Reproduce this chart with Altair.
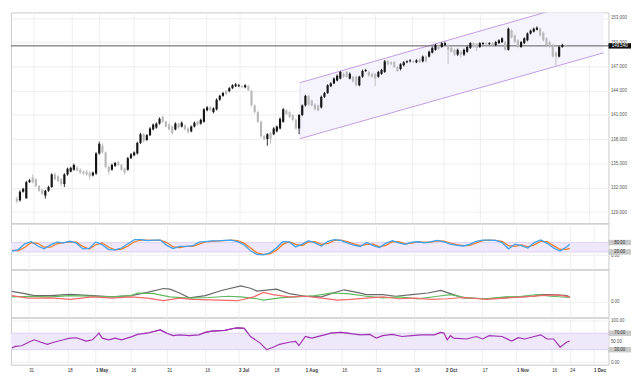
import altair as alt
import pandas as pd

FONT = "Liberation Sans"

# ---------------- price candles (one per trading day) ----------------
opens = [130.68,130.45,131.51,130.68,132.70,133.29,133.05,132.22,131.75,131.04,
         131.63,132.10,133.65,133.41,133.05,132.46,133.65,134.00,134.24,134.47,
         134.24,134.00,134.00,133.88,133.53,133.76,136.25,137.20,136.37,134.59,
         134.24,134.71,135.19,134.83,134.36,134.24,135.66,136.01,136.25,137.55,
         138.62,137.91,138.50,139.21,139.45,139.93,140.76,140.16,139.81,139.57,
         139.21,139.93,139.57,139.69,139.33,138.98,139.57,140.16,139.93,140.16,
         141.58,141.94,141.35,141.70,142.89,143.36,143.95,143.95,144.31,144.55,
         144.55,144.55,144.43,144.55,143.95,142.18,141.35,140.16,138.38,138.03,
         138.74,138.62,138.98,139.33,140.16,141.58,141.35,140.99,140.40,139.33,
         140.99,142.18,143.36,142.77,142.30,142.18,141.94,143.24,143.72,144.55,
         144.90,145.26,145.50,146.09,146.32,145.50,145.73,145.73,144.67,145.73,
         146.44,146.32,146.09,146.09,145.73,146.09,146.32,147.63,147.51,147.51,
         146.92,146.68,147.15,147.51,147.63,147.63,147.51,147.87,147.63,148.22,
         148.22,148.70,149.05,149.52,149.41,149.64,149.64,149.29,149.05,148.46,
         148.81,148.46,148.81,149.29,149.88,149.76,149.41,149.76,149.88,149.76,
         149.88,149.64,149.88,150.00,150.00,149.05,151.42,150.83,150.23,149.41,
         149.88,150.23,151.07,151.30,151.54,151.66,151.18,150.47,150.00,149.64,
         148.70,148.22,149.41,149.60]
closes = [130.33,131.51,131.87,132.70,132.93,132.70,132.22,131.63,131.28,131.63,
          132.10,133.65,133.05,132.82,132.46,133.65,134.36,134.47,134.83,134.12,
          133.88,133.76,133.65,133.41,133.88,136.25,137.44,136.37,134.59,134.00,
          134.83,135.07,134.83,134.24,133.88,135.66,136.13,136.37,137.55,138.62,
          137.79,138.50,139.33,139.81,139.93,140.52,140.16,139.57,139.21,138.74,
          139.93,139.45,140.04,139.21,138.86,139.57,140.04,139.81,140.40,141.70,
          141.94,141.58,141.82,142.89,143.36,143.72,143.60,144.31,144.67,144.78,
          144.67,144.43,144.67,144.07,142.18,141.35,140.16,138.38,138.03,138.62,
          138.03,139.33,139.57,140.52,141.70,141.11,140.76,140.40,139.33,140.99,
          142.18,143.36,142.30,142.18,141.70,141.58,143.24,143.72,144.67,144.90,
          145.50,145.85,146.32,145.73,145.73,146.09,145.14,144.67,145.73,146.44,
          146.56,145.85,145.73,145.50,146.32,146.56,147.63,147.27,147.27,146.92,
          146.44,147.27,147.51,147.63,147.75,147.51,147.75,147.51,148.22,147.63,
          148.81,149.29,149.64,149.17,149.88,149.88,149.05,148.81,148.46,149.05,
          148.46,149.05,149.41,149.88,149.41,149.29,149.88,149.88,149.76,149.88,
          149.64,150.00,150.23,150.47,149.05,151.66,150.59,150.00,149.41,150.00,
          150.47,151.07,151.42,151.66,151.78,150.83,150.23,149.64,149.41,148.22,
          148.22,149.41,149.64,149.54]
highs = [130.92,131.70,132.00,132.85,133.10,133.65,133.20,132.35,131.90,131.75,
         132.25,133.80,133.90,133.55,133.20,133.80,134.50,134.60,135.00,134.70,
         134.40,134.15,134.20,134.00,134.00,136.40,137.70,137.50,136.50,134.75,
         135.00,135.20,135.35,134.95,134.50,135.80,136.30,136.50,137.70,138.80,
         138.75,138.65,139.50,139.95,140.10,140.70,140.90,140.30,139.95,139.70,
         140.10,140.05,140.20,139.85,139.45,139.70,140.20,140.30,140.55,141.85,
         142.10,142.10,141.95,143.05,143.50,143.85,144.10,144.45,144.80,144.95,
         144.85,144.70,144.80,144.70,144.10,142.30,141.50,140.30,138.55,138.75,
         138.90,139.50,139.70,140.70,141.85,141.75,141.50,141.10,140.55,141.10,
         142.30,143.50,143.50,142.90,142.45,142.30,143.40,143.85,144.80,145.05,
         145.65,146.00,146.45,146.25,146.45,146.25,145.85,145.85,145.85,146.60,
         146.70,146.45,146.20,146.20,146.45,146.70,147.80,147.80,147.65,147.65,
         147.05,147.40,147.65,147.75,147.90,147.75,147.90,148.00,148.35,148.35,
         148.95,149.45,149.80,149.70,150.00,150.05,149.80,149.45,149.20,149.20,
         148.95,149.20,149.55,150.00,150.00,149.90,150.00,150.00,150.00,150.00,
         150.00,150.15,150.35,150.60,150.15,151.80,151.60,150.95,150.35,150.15,
         150.60,151.20,151.55,151.80,151.95,151.80,151.30,150.60,150.15,149.80,
         148.85,149.55,149.80,149.70]
lows = [130.09,130.30,131.40,130.70,132.60,132.55,132.10,131.50,131.10,130.68,
        131.50,132.00,132.90,132.70,132.20,132.10,133.50,133.90,134.10,134.00,
        133.70,133.60,133.50,133.05,133.40,133.60,136.10,136.20,134.40,133.65,
        134.10,134.60,134.70,134.10,133.65,134.10,135.55,135.90,136.10,137.40,
        137.60,137.80,138.40,139.10,139.30,139.80,140.00,139.45,139.10,138.60,
        139.10,139.30,139.45,139.10,138.70,138.85,139.45,139.70,139.80,140.05,
        141.45,141.45,141.20,141.55,142.75,143.25,143.45,143.80,144.20,144.45,
        144.45,144.30,144.30,143.95,142.05,141.20,140.00,138.20,137.85,137.20,
        137.45,138.50,138.85,139.20,140.05,141.00,140.60,140.25,139.20,138.62,
        140.85,142.05,142.15,142.05,141.55,141.45,141.80,143.10,143.60,144.45,
        144.80,145.15,145.40,145.60,145.60,145.40,145.00,144.55,144.55,145.60,
        146.30,145.70,145.60,144.55,145.60,145.95,146.20,147.15,147.15,146.80,
        146.30,146.50,147.00,147.40,147.50,147.40,147.40,147.40,147.50,147.50,
        148.10,148.60,148.95,149.05,149.30,149.55,147.27,148.70,148.30,148.30,
        148.10,148.30,148.70,149.15,149.30,148.90,149.30,149.65,149.65,149.65,
        149.50,149.50,149.75,149.90,148.95,148.95,150.45,149.85,149.25,149.30,
        149.75,150.10,150.95,151.20,151.45,150.70,150.10,149.50,149.30,148.10,
        147.04,148.10,149.30,149.45]
last_price = 149.54

# rising channel anchor points (bar index, price)
chan_x = [89.3, 185.0]
chan_upper = [144.99, 155.75]
chan_lower = [138.07, 148.68]

# ---------------- stochastic ----------------
sto_idx = list(range(0, 173, 2)) + [173]
sto_k = [25,35,72,86,58,40,65,82,78,88,76,39,42,84,66,35,33,45,72,98,
         99,92,96,96,62,42,55,56,58,82,86,90,91,94,96,86,66,27,4,2,
         14,45,85,84,52,70,92,78,58,88,99,94,78,64,55,80,60,48,76,92,
         78,68,82,85,78,85,93,84,70,62,58,68,88,95,96,93,80,40,70,60,
         45,80,96,75,45,26,52,69]
sto_d = [30,28,50,80,75,50,50,72,80,84,82,55,38,66,78,50,34,38,58,85,
         96,95,94,96,80,52,48,56,56,70,84,88,90,92,95,92,76,45,14,4,
         8,30,68,86,68,60,84,86,68,74,94,96,86,72,60,68,70,52,62,85,
         86,72,76,84,82,82,90,89,77,66,60,62,78,92,96,94,87,60,55,65,
         52,65,88,86,60,36,36,43]

# ---------------- ADX / DMI ----------------
adx_idx = [0,4,7,12,18,25,31,37,42,47,49,52,55,60,65,71,74,76,82,86,
           91,96,99,103,107,110,115,119,124,129,133,136,140,147,152,157,162,164,168,172,173]
adx_val = [19,14.8,11.2,11.2,13.6,11.2,8.8,11.2,17.2,24.4,23.2,16,7,11.2,20.8,29.2,25,19.6,23.2,14.8,
           10,8.8,14.8,22,17.2,13,13,10,13,16,20.8,14.8,7,5.2,7,8.8,10,13,13,11.2,8.8]
pdi_idx = [0,6,12,18,25,31,37,39,44,49,55,61,67,71,76,78,83,88,94,99,
           104,110,115,120,126,132,136,141,147,153,158,163,167,173]
pdi_val = [8.8,10,8.8,11.2,10,8.8,11.2,16,14.8,8.8,6.4,7.6,10,8.8,5.2,2.8,7,8.8,11.2,16,
           14.8,10,7,8.8,5.2,10,13,7,5.2,8.8,10,13,10,7.6]
mdi_idx = [0,5,12,18,25,31,37,42,47,52,56,64,70,75,78,81,86,91,96,101,
           105,110,115,120,125,130,135,140,147,153,159,164,169,173]
mdi_val = [11.2,6.4,7,4,8.8,6.4,8.8,6.4,1.6,6.4,4,2.8,1.6,8.8,17.2,13,8.8,10,6.4,2.8,
           4,6.4,8.8,5.2,6.4,4,5.2,7.6,4,6.4,8.8,11.2,12.4,8.8]

# ---------------- RSI ----------------
rsi_idx = [0,1,3,6,7,9,11,13,16,18,20,23,25,27,28,30,32,34,37,39,
           42,44,46,48,50,52,55,58,60,62,66,69,70,72,74,77,79,81,83,86,
           88,89,91,93,96,99,102,105,108,111,113,115,118,121,124,127,131,133,134,135,
           136,137,141,144,146,148,152,155,157,159,162,164,166,168,170,172,173]
rsi_val = [34,38,39.5,51,54,48,43,48,54,58,59,51,54,70,58,54,58,54,61,67,
           70,74,78,70,64,66,64,66,72,75,77,82,83,82,62,46,30,36,43,48,
           50,40,62,58,64,70,72,69,66,67,58,64,67,62,64,66,66,72,70,54,
           64,58,56,62,56,64,62,51,59,56,62,66,56,56,36,48,51]

# ---------------- time axis ----------------
tick_pos = [5.2,17.2,25.9,36.9,48.0,59.8,70.3,81.3,91.0,102.3,112.9,124.8,134.5,145.9,156.5,167.4,173.0,180.4]
tick_txt = ["31","18","1 May","16","31","16","3 Jul","18","1 Aug","16","31","18","2 Oct","17","1 Nov","16","24","1 Dec"]
month_pos = [25.9, 70.3, 91.0, 134.5, 156.5, 180.4]

price_ticks = [129, 132, 135, 138, 141, 144, 147, 150, 153]

# ---------------- layout ----------------
W = 609
H_MAIN, H_STO, H_ADX, H_RSI = 215, 47, 49, 48
LBL = 4.5
BOX = "M-1,-0.24H1V0.24H-1Z"
BOX_X = W + 11.5

xs = alt.Scale(domain=[-0.3, 185.0], nice=False, zero=False)
pos_list = "[" + ",".join(str(v) for v in tick_pos) + "]"
txt_list = "[" + ",".join("'" + t + "'" for t in tick_txt) + "]"
mon_list = "[" + ",".join(str(v) for v in month_pos) + "]"

grid_x = alt.Axis(values=tick_pos, labels=False, ticks=False, domain=False, grid=True,
                  gridColor="#eeeeee", title=None)
bottom_x = alt.Axis(values=tick_pos, ticks=False, domain=False, grid=True, gridColor="#eeeeee",
                    title=None, labelExpr=txt_list + "[indexof(" + pos_list + ", datum.value)]",
                    labelAlign="left", labelBaseline="top", labelPadding=3, labelOverlap=False,
                    labelFlush=False, labelFontSize=LBL, labelColor="#333",
                    labelFontWeight={"condition": {"test": "indexof(" + mon_list + ", datum.value) >= 0",
                                                   "value": "bold"}, "value": "normal"})


def y_axis(vals, fmt):
    return alt.Axis(orient="right", values=vals, format=fmt, grid=True, gridColor="#eeeeee",
                    ticks=False, domain=False, title=None, labelPadding=2, labelOverlap=False,
                    labelFlush=False, labelBound=False)


candles = pd.DataFrame({"i": list(range(len(opens))), "open": opens, "close": closes,
                        "high": highs, "low": lows})
candles["dir"] = ["up" if c >= o else "down" for o, c in zip(opens, closes)]
col = alt.Color("dir:N", scale=alt.Scale(domain=["up", "down"], range=["#151515", "#b9b9b9"]), legend=None)

ys_main = alt.Scale(domain=[127.6, 153.67], nice=False, zero=False)
main_axis = y_axis(price_ticks, ".3f")


def ym(field):
    return alt.Y(field, scale=ys_main, axis=main_axis)


chan = pd.DataFrame({"x": chan_x, "up": chan_upper, "lo": chan_lower})
base_c = alt.Chart(chan)
chan_area = base_c.mark_area(color="#f5f3fc", opacity=1, clip=True).encode(
    x=alt.X("x:Q", scale=xs, axis=grid_x), y=ym("up:Q"), y2="lo:Q")
chan_up = base_c.mark_line(color="#c29be2", strokeWidth=1, clip=True).encode(
    x=alt.X("x:Q", scale=xs, axis=grid_x), y=ym("up:Q"))
chan_lo = base_c.mark_line(color="#c29be2", strokeWidth=1, clip=True).encode(
    x=alt.X("x:Q", scale=xs, axis=grid_x), y=ym("lo:Q"))
chan_edge = alt.Chart(chan.head(1)).mark_rule(color="#e2d8f2", strokeWidth=0.8).encode(
    x=alt.X("x:Q", scale=xs, axis=grid_x), y=ym("up:Q"), y2="lo:Q")

price_line = alt.Chart(pd.DataFrame({"p": [last_price]})).mark_rule(color="#5a5a5a", strokeWidth=1).encode(
    y=ym("p:Q"))

cb = alt.Chart(candles)
wicks = cb.mark_rule(strokeWidth=0.9).encode(
    x=alt.X("i:Q", scale=xs, axis=grid_x), y=ym("low:Q"), y2="high:Q", color=col)
bodies = cb.mark_bar(size=2.2).encode(
    x=alt.X("i:Q", scale=xs, axis=grid_x), y=ym("open:Q"), y2="close:Q", color=col)

price_tag = pd.DataFrame({"p": [last_price], "t": ["149.540"]})
tag_box = alt.Chart(price_tag).mark_point(shape=BOX, size=529, filled=True, color="#111111", opacity=1).encode(
    x=alt.value(BOX_X), y=ym("p:Q"))
tag_txt = alt.Chart(price_tag).mark_text(font=FONT, fontSize=LBL, color="white", align="center",
                                         baseline="middle").encode(
    x=alt.value(BOX_X), y=ym("p:Q"), text="t:N")

main = alt.layer(chan_area, chan_up, chan_lo, chan_edge, price_line, wicks, bodies, tag_box, tag_txt
                 ).properties(width=W, height=H_MAIN)


def band_layers(lo, hi, ys, ax, box_vals, box_txt):
    bdf = pd.DataFrame({"lo": [lo], "hi": [hi]})
    band = alt.Chart(bdf).mark_rect(color="#efe7fa").encode(
        x=alt.value(0), x2=alt.value(W), y=alt.Y("lo:Q", scale=ys, axis=ax), y2="hi:Q")
    edges = alt.Chart(pd.DataFrame({"v": [lo, hi]})).mark_rule(color="#d9cbef", strokeWidth=0.8).encode(
        y=alt.Y("v:Q", scale=ys, axis=ax))
    tdf = pd.DataFrame({"v": box_vals, "t": box_txt})
    boxes = alt.Chart(tdf).mark_point(shape=BOX, size=529, filled=True, color="#c9c9c9", opacity=1).encode(
        x=alt.value(BOX_X), y=alt.Y("v:Q", scale=ys, axis=ax))
    texts = alt.Chart(tdf).mark_text(font=FONT, fontSize=LBL, color="#333", align="center",
                                     baseline="middle").encode(
        x=alt.value(BOX_X), y=alt.Y("v:Q", scale=ys, axis=ax), text="t:N")
    return band, edges, boxes, texts


# stochastic panel
ys_sto = alt.Scale(domain=[-92, 202], nice=False, zero=False)
ax_sto = y_axis([0], ".2f")
sto = pd.DataFrame({"i": sto_idx, "k": sto_k, "d": sto_d})
s_band, s_edges, s_boxes, s_texts = band_layers(20, 80, ys_sto, ax_sto, [80, 20], ["80.00", "20.00"])
s_k = alt.Chart(sto).mark_line(color="#3ea2f2", strokeWidth=1.3).encode(
    x=alt.X("i:Q", scale=xs, axis=grid_x), y=alt.Y("k:Q", scale=ys_sto, axis=ax_sto))
s_d = alt.Chart(sto).mark_line(color="#f47d20", strokeWidth=1.3).encode(
    x=alt.X("i:Q", scale=xs, axis=grid_x), y=alt.Y("d:Q", scale=ys_sto, axis=ax_sto))
stoch = alt.layer(s_band, s_edges, s_d, s_k, s_boxes, s_texts).properties(width=W, height=H_STO)

# ADX panel
ys_adx = alt.Scale(domain=[-30, 60], nice=False, zero=False)
ax_adx = y_axis([0], ".2f")
a_line = alt.Chart(pd.DataFrame({"i": adx_idx, "v": adx_val})).mark_line(color="#6a6a6a", strokeWidth=1.2).encode(
    x=alt.X("i:Q", scale=xs, axis=grid_x), y=alt.Y("v:Q", scale=ys_adx, axis=ax_adx))
p_line = alt.Chart(pd.DataFrame({"i": pdi_idx, "v": pdi_val})).mark_line(color="#5fba5f", strokeWidth=1.2).encode(
    x=alt.X("i:Q", scale=xs, axis=grid_x), y=alt.Y("v:Q", scale=ys_adx, axis=ax_adx))
m_line = alt.Chart(pd.DataFrame({"i": mdi_idx, "v": mdi_val})).mark_line(color="#f46a6a", strokeWidth=1.2).encode(
    x=alt.X("i:Q", scale=xs, axis=grid_x), y=alt.Y("v:Q", scale=ys_adx, axis=ax_adx))
adx = alt.layer(a_line, p_line, m_line).properties(width=W, height=H_ADX)

# RSI panel
ys_rsi = alt.Scale(domain=[-6.4, 107.9], nice=False, zero=False)
ax_rsi = y_axis([0, 50, 100], ".2f")
r_band, r_edges, r_boxes, r_texts = band_layers(30, 70, ys_rsi, ax_rsi, [70, 30], ["70.00", "30.00"])
r_line = alt.Chart(pd.DataFrame({"i": rsi_idx, "v": rsi_val})).mark_line(color="#a033b3", strokeWidth=1.2).encode(
    x=alt.X("i:Q", scale=xs, axis=bottom_x), y=alt.Y("v:Q", scale=ys_rsi, axis=ax_rsi))
rsi = alt.layer(r_line, r_band, r_edges, r_line, r_boxes, r_texts).properties(width=W, height=H_RSI)

chart = alt.vconcat(main, stoch, adx, rsi, spacing=0, bounds="flush").properties(
    padding=0, background="white"
).configure_view(stroke="#c8c8c8", strokeWidth=1).configure_axis(
    labelFont=FONT, labelFontSize=LBL, labelColor="#555"
)

chart.save("out.html", embed_options={"renderer": "svg", "actions": False})
